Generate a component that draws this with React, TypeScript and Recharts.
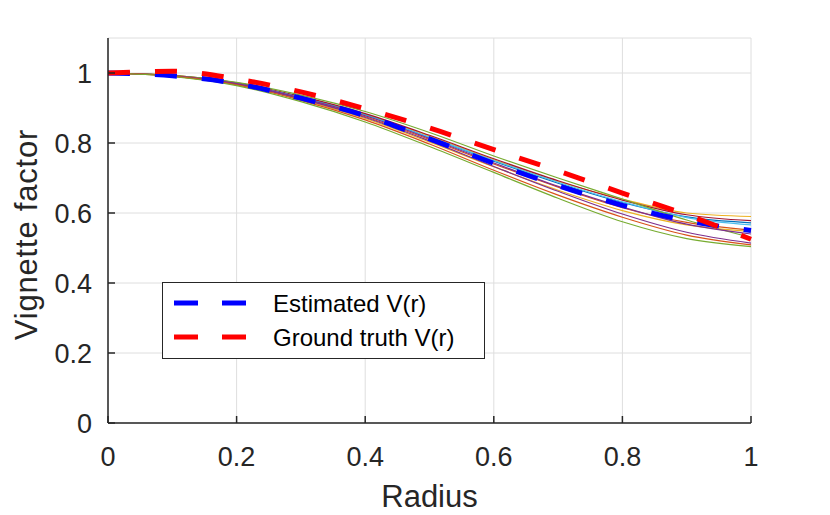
import { CartesianGrid, Legend, Line, LineChart, XAxis, YAxis } from "recharts";

const radius = [0, 0.1, 0.2, 0.3, 0.4, 0.5, 0.6, 0.7, 0.8, 0.9, 1.0];

const estimated = [1.0, 0.992, 0.97, 0.928, 0.878, 0.812, 0.742, 0.678, 0.622, 0.578, 0.55];
const groundTruth = [1.0, 1.005, 0.983, 0.946, 0.898, 0.843, 0.781, 0.72, 0.657, 0.595, 0.525];

// individual runs (thin lines)
const run1 = [1.0, 0.993, 0.971, 0.932, 0.882, 0.82, 0.752, 0.69, 0.64, 0.6, 0.59];
const run2 = [1.0, 0.993, 0.972, 0.933, 0.884, 0.822, 0.755, 0.692, 0.637, 0.595, 0.578];
const run3 = [1.0, 0.992, 0.97, 0.93, 0.88, 0.816, 0.748, 0.685, 0.63, 0.589, 0.572];
const run4 = [1.0, 0.992, 0.97, 0.93, 0.879, 0.816, 0.75, 0.688, 0.632, 0.587, 0.566];
const run5 = [1.0, 0.993, 0.973, 0.937, 0.89, 0.83, 0.763, 0.7, 0.64, 0.58, 0.53];
const run6 = [1.0, 0.992, 0.969, 0.927, 0.875, 0.81, 0.74, 0.674, 0.615, 0.573, 0.551];
const run7 = [1.0, 0.991, 0.967, 0.924, 0.87, 0.803, 0.732, 0.665, 0.607, 0.566, 0.547];
const run8 = [1.0, 0.992, 0.97, 0.929, 0.878, 0.813, 0.743, 0.676, 0.617, 0.568, 0.54];
const run9 = [1.0, 0.991, 0.968, 0.926, 0.873, 0.806, 0.733, 0.662, 0.597, 0.545, 0.514];
const run10 = [1.0, 0.991, 0.966, 0.922, 0.866, 0.797, 0.722, 0.651, 0.588, 0.537, 0.509];
const run11 = [1.0, 0.99, 0.964, 0.918, 0.86, 0.79, 0.716, 0.642, 0.575, 0.527, 0.504];

const runs = [run1, run2, run3, run4, run5, run6, run7, run8, run9, run10, run11];
const runColors = [
  "#EDB120", "#A2142F", "#0072BD", "#4DBEEE", "#77AC30", "#D95319",
  "#EDB120", "#7E2F8E", "#7E2F8E", "#D95319", "#77AC30",
];

const xTicks = [0, 0.2, 0.4, 0.6, 0.8, 1];
const yTicks = [0, 0.2, 0.4, 0.6, 0.8, 1];

const FONT = '"Liberation Sans", Arial, Helvetica, sans-serif';
const AXIS = "#262626";

const data = radius.map((r, i) => {
  const row: Record<string, number> = { r, est: estimated[i], gt: groundTruth[i] };
  runs.forEach((run, k) => {
    row[`run${k}`] = run[i];
  });
  return row;
});

function XTitle({ viewBox }: any) {
  const cx = viewBox.x + viewBox.width / 2;
  return (
    <text x={cx} y={507} textAnchor="middle" fontSize={31} fill={AXIS} fontFamily={FONT}>
      Radius
    </text>
  );
}

function YTitle({ viewBox }: any) {
  const cy = viewBox.y + viewBox.height / 2 + 4;
  const bx = 37;
  return (
    <text
      x={bx}
      y={cy}
      transform={`rotate(-90 ${bx} ${cy})`}
      textAnchor="middle"
      fontSize={31}
      letterSpacing={0.8}
      fill={AXIS}
      fontFamily={FONT}
    >
      Vignette factor
    </text>
  );
}

function LegendBox({ payload }: any) {
  const items = (payload || []).filter((p: any) => p.type !== "none");
  return (
    <div
      style={{
        width: 323,
        height: 77,
        border: `1px solid ${AXIS}`,
        background: "#fff",
        boxSizing: "border-box",
      }}
    >
      <svg width={321} height={75} style={{ display: "block" }}>
        {items.map((p: any, i: number) => {
          const y = 20 + i * 34;
          return (
            <g key={p.value}>
              <line x1={11} x2={85} y1={y} y2={y} stroke={p.color} strokeWidth={5} strokeDasharray="24 24" />
              <text x={110} y={y + 9} fontSize={24} fill="#000" fontFamily={FONT}>
                {p.value}
              </text>
            </g>
          );
        })}
      </svg>
    </div>
  );
}

export default function App() {
  return (
    <div style={{ position: "absolute", left: 0, top: 0, background: "#fff" }}>
      <LineChart width={830} height={515} data={data} margin={{ top: 38, right: 79, bottom: 0, left: 0 }}>
        <CartesianGrid stroke="#dedede" strokeWidth={1} />
        <XAxis
          dataKey="r"
          type="number"
          domain={[0, 1]}
          ticks={xTicks}
          height={92}
          stroke={AXIS}
          strokeWidth={1.5}
          tickSize={-7}
          tickMargin={31}
          tick={{ fill: AXIS, fontSize: 27, fontFamily: FONT }}
          label={<XTitle />}
        />
        <YAxis
          type="number"
          domain={[0, 1.1]}
          ticks={yTicks}
          width={108}
          stroke={AXIS}
          strokeWidth={1.5}
          tickSize={-7}
          tickMargin={23}
          tick={{ fill: AXIS, fontSize: 27, fontFamily: FONT }}
          label={<YTitle />}
        />
        {runs.map((_, k) => (
          <Line
            key={k}
            type="monotone"
            dataKey={`run${k}`}
            stroke={runColors[k]}
            strokeWidth={1.2}
            dot={false}
            legendType="none"
            isAnimationActive={false}
          />
        ))}
        <Line
          type="monotone"
          dataKey="est"
          name="Estimated V(r)"
          stroke="#0000FF"
          strokeWidth={5}
          strokeDasharray="22 25"
          dot={false}
          isAnimationActive={false}
        />
        <Line
          type="monotone"
          dataKey="gt"
          name="Ground truth V(r)"
          stroke="#FF0000"
          strokeWidth={5}
          strokeDasharray="22 25"
          dot={false}
          isAnimationActive={false}
        />
        <Legend
          layout="horizontal"
          verticalAlign="middle"
          align="center"
          content={<LegendBox />}
          wrapperStyle={{ position: "absolute", left: 162, top: 282, width: 323 }}
        />
      </LineChart>
    </div>
  );
}
